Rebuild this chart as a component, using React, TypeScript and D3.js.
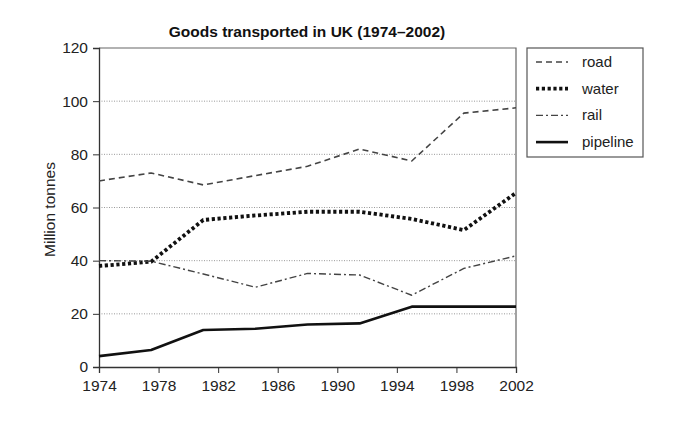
import { useEffect, useRef } from "react";
import * as d3 from "d3";

const years = [1974, 1977.5, 1981, 1984.5, 1988, 1991.5, 1995, 1998.5, 2002];
const road = [70, 73, 68.5, 72, 75.5, 82, 77.5, 95.5, 97.5];
const water = [38, 39.6, 55.3, 57, 58.4, 58.4, 55.7, 51.5, 65.5];
const rail = [40, 39.8, 35, 30, 35.2, 34.6, 27, 37.1, 41.8];
const pipeline = [4.1, 6.4, 13.9, 14.4, 16, 16.4, 22.7, 22.7, 22.7];

const xTicks = [1974, 1978, 1982, 1986, 1990, 1994, 1998, 2002];
const yTicks = [0, 20, 40, 60, 80, 100, 120];

const seriesNames = ["road", "water", "rail", "pipeline"];

const styles: Record<string, { width: number; dash: string | null; color: string }> = {
  road: { width: 1.6, dash: "6,4", color: "#444" },
  water: { width: 3.8, dash: "3.2,2.6", color: "#111" },
  rail: { width: 1.4, dash: "7,3,2,3", color: "#444" },
  pipeline: { width: 2.6, dash: null, color: "#111" },
};

const App = () => {
  const ref = useRef<SVGSVGElement>(null);

  useEffect(() => {
    const svg = d3.select(ref.current);
    svg.selectAll("*").remove();

    const left = 99, right = 516, top = 48, bottom = 367;
    const font = "Arial, 'Liberation Sans', sans-serif";

    const x = d3.scaleLinear().domain([1974, 2002]).range([left, right]);
    const y = d3.scaleLinear().domain([0, 120]).range([bottom, top]);

    // grid lines
    svg
      .append("g")
      .selectAll("line")
      .data(yTicks.filter((t) => t > 0 && t < 120))
      .enter()
      .append("line")
      .attr("x1", left)
      .attr("x2", right)
      .attr("y1", (d) => y(d))
      .attr("y2", (d) => y(d))
      .attr("stroke", "#999")
      .attr("stroke-width", 1)
      .attr("stroke-dasharray", "1,1.5");

    // plot frame (top and right)
    svg
      .append("path")
      .attr("d", `M${left},${y(120)}H${right}V${bottom}`)
      .attr("fill", "none")
      .attr("stroke", "#666")
      .attr("stroke-width", 1.2);

    // y axis
    const yAxis = svg
      .append("g")
      .attr("transform", `translate(${left},0)`)
      .call(d3.axisLeft(y).tickValues(yTicks).tickSize(6).tickPadding(5));
    yAxis.select(".domain").attr("stroke", "#333").attr("stroke-width", 1.3);
    yAxis.selectAll(".tick line").attr("stroke", "#333");
    yAxis
      .selectAll(".tick text")
      .attr("font-family", font)
      .attr("font-size", 15.5)
      .attr("fill", "#222");

    // x axis
    const xAxis = svg
      .append("g")
      .attr("transform", `translate(0,${bottom})`)
      .call(
        d3
          .axisBottom(x)
          .tickValues(xTicks)
          .tickFormat(d3.format("d"))
          .tickSize(6)
          .tickPadding(7)
      );
    xAxis.select(".domain").attr("stroke", "#333").attr("stroke-width", 1.3);
    xAxis.selectAll(".tick line").attr("stroke", "#333");
    xAxis
      .selectAll(".tick text")
      .attr("font-family", font)
      .attr("font-size", 15.5)
      .attr("fill", "#222");

    const line = d3
      .line<number>()
      .x((d, i) => x(years[i]))
      .y((d) => y(d));

    const data: Record<string, number[]> = { road, water, rail, pipeline };

    seriesNames.forEach((name) => {
      const s = styles[name];
      svg
        .append("path")
        .datum(data[name])
        .attr("d", line)
        .attr("fill", "none")
        .attr("stroke", s.color)
        .attr("stroke-width", s.width)
        .attr("stroke-dasharray", s.dash)
        .attr("stroke-linejoin", "round");
    });

    // title
    svg
      .append("text")
      .attr("x", 307)
      .attr("y", 37)
      .attr("text-anchor", "middle")
      .attr("font-family", font)
      .attr("font-weight", "bold")
      .attr("font-size", 15.5)
      .attr("fill", "#111")
      .text("Goods transported in UK (1974\u20132002)");

    // y label
    svg
      .append("text")
      .attr("transform", `translate(55,${(top + bottom) / 2 + 2}) rotate(-90)`)
      .attr("text-anchor", "middle")
      .attr("font-family", font)
      .attr("font-size", 15.5)
      .attr("fill", "#222")
      .text("Million tonnes");

    // legend
    const lg = svg.append("g");
    lg.append("rect")
      .attr("x", 527)
      .attr("y", 48)
      .attr("width", 116)
      .attr("height", 109)
      .attr("fill", "none")
      .attr("stroke", "#555")
      .attr("stroke-width", 1.2);

    seriesNames.forEach((name, i) => {
      const s = styles[name];
      const ly = 62 + i * 26.7;
      lg.append("line")
        .attr("x1", 536)
        .attr("x2", 568)
        .attr("y1", ly)
        .attr("y2", ly)
        .attr("stroke", s.color)
        .attr("stroke-width", s.width)
        .attr("stroke-dasharray", s.dash);
      lg.append("text")
        .attr("x", 582)
        .attr("y", ly + 5)
        .attr("font-family", font)
        .attr("font-size", 15)
        .attr("fill", "#222")
        .text(name);
    });
  }, []);

  return (
    <svg
      ref={ref}
      width={680}
      height={442}
      style={{ position: "absolute", left: 0, top: 0, background: "#fff" }}
    ></svg>
  );
};

export default App;
